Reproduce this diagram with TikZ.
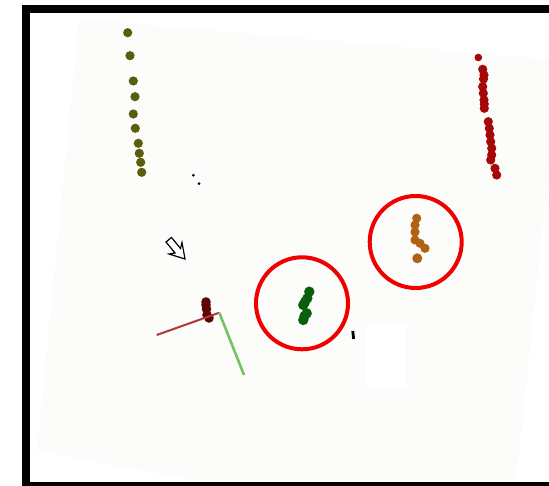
\documentclass[tikz,border=0pt]{standalone}
\begin{document}
\begin{tikzpicture}[x=1pt,y=-1pt]
\definecolor{paper}{RGB}{252,252,250}
\definecolor{olivedot}{RGB}{88,94,14}
\definecolor{reddot}{RGB}{165,8,8}
\definecolor{maroon}{RGB}{95,5,5}
\definecolor{greendot}{RGB}{10,95,15}
\definecolor{orangedot}{RGB}{178,96,20}
\definecolor{axisred}{RGB}{178,55,55}
\definecolor{axisgreen}{RGB}{115,195,100}
\definecolor{ringred}{RGB}{240,0,0}
\tikzset{
  olive/.style={fill=olivedot},
  rdot/.style={fill=reddot},
  ring/.style={draw=ringred,line width=4pt},
}
\useasboundingbox (0,0) rectangle (549,486);
% background sheet
\begin{scope}
\clip (30,13) rectangle (549,482);
\fill[paper] (79,19) -- (560,60) -- (510,540) -- (37,451) -- cycle;
\fill[white] (366,324) rectangle (406,387);
\end{scope}
% frame
\fill[black] (22,5) rectangle (30,486);
\fill[black] (22,5) rectangle (549,13);
\fill[black] (22,482) rectangle (549,486);
% olive dots
\foreach \p in {(127.7,32.7),(130,55.7),(133.3,81),(135,96.7),(133.3,114),(135.3,128.3),(138.3,143.3),(139.3,153.3),(140.7,162.3),(141.7,172.3)}
  \fill[olive] \p circle (4.6);
% small black dots
\fill (193.3,175.3) circle (1.5);
\fill (199,183.7) circle (1.5);
% red dots
\begin{scope}
\clip (79,19) -- (560,60) -- (560,200) -- (440,200) -- cycle;
\fill[rdot] (478.3,57.5) circle (3.8);
\end{scope}
\foreach \p in {(482.7,69.3),(484,75),(483.5,79),(482.7,86.7),(483.3,93.3),(484,100),(484.3,104),(484.3,108.3),(488.3,121.7),(489.3,128.3),(490,135),(490.7,141.7),(491.7,148.3),(491.7,155),(490.7,160),(495,168.3),(496.7,175)}
  \fill[rdot] \p circle (4.6);
% cursor arrow
\draw[line width=1.2pt,fill=white,line join=miter] (185,259) -- (169,254) -- (175,253) -- (166,242) -- (171.5,237.5) -- (180.5,248.5) -- (182,242.5) -- cycle;
% maroon blob
\foreach \p in {(206,302),(206,305),(206.5,309),(207,315),(209,318)}
  \fill[maroon] \p circle (4.8);
% axes
\coordinate (o) at (219.3,312.7);
\coordinate (xa) at (156.7,335);
\coordinate (ya) at (244,375);
\draw[axisred,line width=2pt] (o) -- (xa);
\draw[axisgreen,line width=2.6pt] (o) -- (ya);
% rings
\draw[ring] (302,303.3) circle (46);
\draw[ring] (415.7,242) circle (46);
% green blob
\foreach \p in {(309.3,291.7),(307.3,298.3),(305,302),(303.3,305),(306.7,313.3),(304.5,316),(303.3,320)}
  \fill[greendot] \p circle (5.2);
% orange blob
\foreach \p in {(416.7,218.3),(415,225),(415,232),(415,240),(420,243.3),(425,248.3)}
  \fill[orangedot] \p circle (4.6);
\fill[orangedot] (417.3,258.3) circle (5);
% small mark
\draw[line width=2.8pt] (352.8,331) -- (353.6,339);
\end{tikzpicture}
\end{document}
